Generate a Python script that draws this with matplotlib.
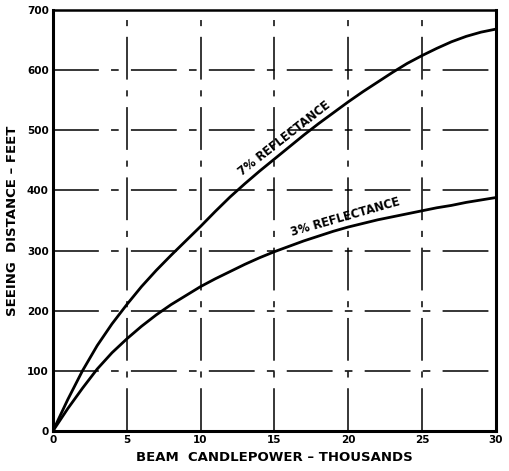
import numpy as np
import matplotlib.pyplot as plt

# beam candlepower (thousands) vs seeing distance (feet)
cp = list(range(0, 31))
dist_7 = [0, 52, 100, 142, 178, 210, 240, 267, 292, 316, 340, 365, 389, 411, 432, 452,
          472, 492, 511, 529, 547, 564, 580, 596, 611, 624, 636, 647, 656, 663, 668]
dist_3 = [0, 37, 71, 103, 130, 153, 174, 193, 210, 225, 240, 253, 265, 277, 288, 298,
          307, 316, 324, 332, 339, 345, 351, 356, 361, 366, 371, 375, 380, 384, 388]

xticks = [0, 5, 10, 15, 20, 25, 30]
yticks = [0, 100, 200, 300, 400, 500, 600, 700]

fig = plt.figure(figsize=(5.09, 4.71), dpi=100)
ax = fig.add_axes([0.104, 0.085, 0.870, 0.894])

for x in xticks[1:-1]:
    ax.axvline(x, color="black", lw=1.1, ls=(0, (28, 7, 4, 7)), zorder=1)
for y in yticks[1:-1]:
    ax.axhline(y, color="black", lw=1.1, ls=(0, (30, 8, 5, 8)), zorder=1)

ax.plot(cp, dist_7, color="black", lw=2.0, solid_capstyle="round", zorder=3)
ax.plot(cp, dist_3, color="black", lw=2.0, solid_capstyle="round", zorder=3)

def curve_label(text, x, xs, ys, angle):
    y = np.interp(x, xs, ys)
    a = np.radians(angle)
    off = 2.5
    ax.annotate(text, (x, y), xytext=(-off * np.sin(a), off * np.cos(a)),
                textcoords="offset points", rotation=angle, rotation_mode="anchor",
                ha="center", va="bottom", fontsize=8.3, fontweight="bold")

curve_label("7% REFLECTANCE", 16.1, cp, dist_7, 38)
curve_label("3% REFLECTANCE", 20.0, cp, dist_3, 16)

ax.set_xlim(0, 30)
ax.set_ylim(0, 700)
ax.set_xticks(xticks)
ax.set_yticks(yticks)
ax.tick_params(length=0, pad=3, labelsize=7.5)
for lab in ax.get_xticklabels() + ax.get_yticklabels():
    lab.set_fontweight("bold")

for side in ["left", "bottom", "right"]:
    ax.spines[side].set_linewidth(2.2)
ax.spines["top"].set_linewidth(1.8)

ax.set_xlabel("BEAM  CANDLEPOWER – THOUSANDS", fontsize=9.5, fontweight="bold", labelpad=4)
ax.set_ylabel("SEEING  DISTANCE – FEET", fontsize=9.5, fontweight="bold", labelpad=6)

fig.savefig("out.png", dpi=100)
